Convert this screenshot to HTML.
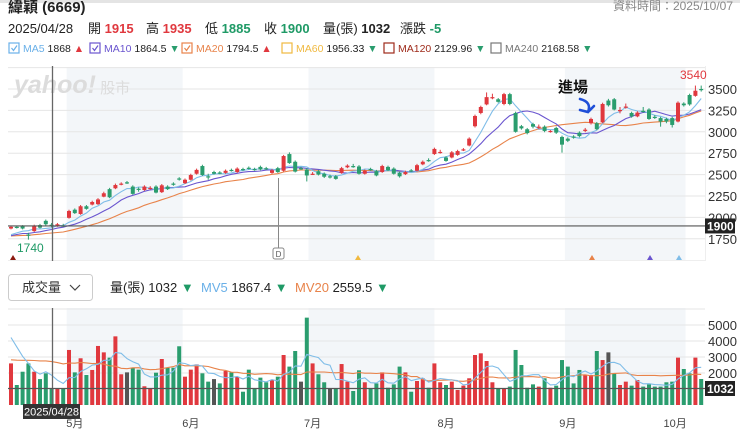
<!DOCTYPE html>
<html><head><meta charset="utf-8">
<style>
html,body{margin:0;padding:0;background:#fff;width:740px;height:441px;overflow:hidden}
svg{display:block;font-family:"Liberation Sans","Noto Sans CJK TC",sans-serif}
</style></head>
<body>
<svg id="c" width="740" height="441" viewBox="0 0 740 441">
  <rect x="0" y="0" width="740" height="3" fill="#e4e4e4"/>
  <text x="8" y="12" font-size="15" font-weight="bold" fill="#222">緯穎 (6669)</text>
  <text x="733" y="10" font-size="12" fill="#888" text-anchor="end">資料時間：2025/10/07</text>
  <g font-size="13">
    <text x="8" y="33" fill="#222">2025/04/28</text>
    <text x="88" y="33" fill="#222">開 <tspan fill="#e0383e" font-weight="bold">1915</tspan></text>
    <text x="146" y="33" fill="#222">高 <tspan fill="#e0383e" font-weight="bold">1935</tspan></text>
    <text x="205" y="33" fill="#222">低 <tspan fill="#1f9a66" font-weight="bold">1885</tspan></text>
    <text x="264" y="33" fill="#222">收 <tspan fill="#1f9a66" font-weight="bold">1900</tspan></text>
    <text x="323" y="33" fill="#222">量(張) <tspan font-weight="bold">1032</tspan></text>
    <text x="400" y="33" fill="#222">漲跌 <tspan fill="#1f9a66" font-weight="bold">-5</tspan></text>
  </g>
  <g id="legend" font-size="10.5"></g>
  <g id="main"></g>
  <g id="volhdr">
    <rect x="8.5" y="274.5" width="84" height="26" rx="3" fill="#fff" stroke="#ccc"/>
    <text x="22" y="292" font-size="13" fill="#333">成交量</text>
    <path d="M70 285 L75 290 L80 285" fill="none" stroke="#444" stroke-width="1.2"/>
    <text x="110" y="292" font-size="13" fill="#222">量(張) 1032 <tspan fill="#1f9a66">▼</tspan></text>
    <text x="201" y="292" font-size="13" fill="#222"><tspan fill="#6ab0e8">MV5</tspan> 1867.4 <tspan fill="#1f9a66">▼</tspan></text>
    <text x="295" y="292" font-size="13" fill="#222"><tspan fill="#e8834a">MV20</tspan> 2559.5 <tspan fill="#1f9a66">▼</tspan></text>
  </g>
  <g id="vol"></g>
</svg>
<script>
const opens=[1870,1890,1895,1800,1840,1910,1960,1915,1900,1905,1995,2090,2040,2130,2150,2155,2242,2330,2340,2385,2410,2360,2335,2320,2335,2360,2295,2360,2395,2455,2400,2440,2510,2600,2480,2530,2525,2520,2555,2530,2565,2580,2565,2590,2575,2520,2575,2545,2740,2650,2575,2560,2505,2540,2510,2480,2480,2520,2585,2600,2595,2510,2565,2540,2530,2590,2570,2520,2505,2550,2545,2620,2670,2740,2755,2700,2700,2730,2785,2840,3065,3220,3320,3395,3380,3325,3440,3220,3065,3030,3090,3050,3060,3000,3045,2940,2920,2945,2990,3010,3100,3100,3110,3365,3380,3245,3285,3220,3180,3245,3260,3175,3160,3150,3160,3120,3330,3430,3420,3500];
const closes=[1890,1885,1870,1790,1900,1880,1920,1900,1920,1900,2075,2050,2130,2100,2180,2210,2282,2235,2378,2395,2400,2275,2330,2360,2345,2290,2375,2330,2385,2445,2440,2495,2555,2495,2475,2510,2520,2545,2550,2570,2560,2575,2560,2560,2570,2550,2530,2717,2635,2535,2570,2490,2510,2500,2475,2475,2450,2575,2605,2595,2510,2545,2560,2490,2600,2550,2510,2480,2530,2545,2610,2650,2665,2800,2765,2660,2760,2775,2795,2920,3185,3290,3405,3405,3350,3440,3325,3000,3040,2985,3060,3060,3010,3010,2990,2850,2895,2940,2950,3025,3150,3030,3325,3310,3260,3255,3295,3180,3225,3240,3150,3170,3120,3120,3080,3340,3310,3320,3480,3495];
const highs=[1905,1905,1910,1820,1915,1925,1975,1935,1935,1925,2090,2105,2145,2145,2195,2225,2300,2345,2395,2410,2425,2375,2350,2375,2365,2375,2390,2375,2410,2470,2455,2510,2570,2615,2510,2545,2540,2560,2570,2585,2580,2595,2580,2605,2590,2565,2590,2730,2760,2665,2590,2575,2530,2555,2525,2500,2495,2590,2620,2625,2610,2560,2580,2555,2615,2605,2585,2535,2545,2565,2625,2665,2690,2815,2790,2715,2775,2790,2810,2935,3200,3305,3460,3445,3395,3455,3455,3235,3080,3045,3105,3085,3075,3020,3060,2955,2935,2960,3005,3045,3165,3115,3340,3385,3395,3290,3330,3235,3240,3290,3275,3195,3175,3165,3175,3355,3345,3445,3540,3540];
const lows=[1860,1870,1860,1740,1830,1870,1905,1885,1890,1890,1985,2040,2030,2090,2140,2145,2235,2225,2330,2375,2390,2265,2300,2310,2325,2280,2285,2320,2370,2430,2390,2430,2500,2485,2440,2500,2505,2510,2535,2520,2545,2560,2545,2550,2555,2510,2520,2535,2625,2525,2555,2420,2495,2490,2460,2455,2440,2510,2575,2580,2500,2500,2545,2480,2520,2540,2500,2465,2495,2530,2535,2610,2650,2730,2745,2650,2690,2720,2775,2830,3050,3205,3310,3380,3340,3310,3310,2990,3025,2970,3040,3030,2995,2990,2975,2756,2880,2920,2935,2995,3085,3020,3100,3295,3250,3215,3270,3165,3170,3225,3140,3150,3060,3100,3050,3110,3295,3305,3410,3470];
const history=[1820,1800,1780,1760,1750,1770,1790,1800,1780,1760,1740,1760,1780,1790,1800,1780,1770,1760,1790];
const volumes=[2600,1250,2080,2600,2080,1620,1980,1032,1040,1040,3440,2040,2920,1875,2190,3690,3290,2960,4290,1920,2040,2330,2210,1170,1040,2020,2875,2330,2330,3670,1770,2210,2540,1980,1460,1620,1350,2125,2040,1770,830,2210,1040,1710,1420,1560,1770,3125,2400,3375,1460,5460,2600,1920,1420,1040,1000,2560,1460,875,2170,1420,1040,1350,2040,1080,1290,2400,2040,830,1500,1670,1080,2600,1420,1250,1460,940,1210,1670,3125,3230,2750,1420,1040,1000,1150,3440,2500,1080,1290,1150,1670,1080,1210,2810,2400,1350,2190,1875,1875,3375,2810,3290,1980,1250,1460,1210,1560,1150,1290,1150,1150,1420,1460,2960,2250,1980,2960,1625];
const volHistory=[1800,2200,2500,2400,2100,2000,1900,2300,2600,2400,2200,2000,2500,3000,3500,4200,5000,4800,4500];
const grayVolIdx=[20,35,50,55,103];
const priceTicks=[3500,3250,3000,2750,2500,2250,2000,1750];
const priceGrid=[3750,3500,3250,3000,2750,2500,2250,2000,1750];
const volTicks=[5000,4000,3000,2000];
const volGrid=[6000,5000,4000,3000,2000];
const monthLabels=['5月','6月','7月','8月','9月','10月'];
const monthIdx=[11,31,52,75,96,114.5];
const shadeRanges=[[9.6,29.6],[51.3,73],[95.5,116.3]];
const maNames=['MA5','MA10','MA20','MA60','MA120','MA240'];
const maVals=['1868','1864.5','1794.5','1956.33','2129.96','2168.58'];
const maUp=[true,false,true,false,false,false];
const maColors=['#6ab0e8','#6a55cf','#e8834a','#f0b940','#9e2a1a','#777'];
const maChecked=[true,true,true,false,false,false];

const NS='http://www.w3.org/2000/svg';
function el(tag,attrs,parent){const e=document.createElementNS(NS,tag);for(const k in attrs)e.setAttribute(k,attrs[k]);parent.appendChild(e);return e;}
const X0=11,STEP=5.8,L=8,R=705;
const xs=i=>X0+i*STEP;
const py=p=>89+(3500-p)*0.0856;
const vy=v=>405-v*0.016;
const RED='#e0383e',GREEN='#2a9d6e',GRAY='#555';

const lg=document.getElementById('legend');
const legX=[9,90,182,282,384,491];
maNames.forEach((n,k)=>{
  const lx=legX[k];
  const g=el('g',{},lg);
  
  
  el('rect',{x:lx,y:43,width:10,height:10,fill:'#fff',stroke:maColors[k],'stroke-width':1.2},g);
  if(maChecked[k]) el('path',{d:`M${lx+2.5} ${48} l2 2.5 l3.5 -5`,fill:'none',stroke:maColors[k],'stroke-width':1.2},g);
  const t=el('text',{x:lx+14,y:52,fill:'#222'},g);
  t.innerHTML=`<tspan fill="${maColors[k]}">${n}</tspan> ${maVals[k]} <tspan fill="${maUp[k]?RED:GREEN}">${maUp[k]?'▲':'▼'}</tspan>`;
});

const m=document.getElementById('main');
el('rect',{x:L,y:66,width:R-L,height:195,fill:'#fff'},m);
shadeRanges.forEach(r=>{const s=el('rect',{x:xs(r[0]),y:67,width:(r[1]-r[0])*STEP,height:193,fill:'#f3f6f9'},m);
  
  });
el('rect',{x:xs(116.3),y:67,width:R-xs(116.3),height:193,fill:'#fff'},m);
priceGrid.forEach(p=>{const l=el('line',{x1:L,x2:R,y1:py(p),y2:py(p),stroke:'#e6e6e6'},m);
  
  });
el('line',{x1:L,x2:R,y1:260.5,y2:260.5,stroke:'#eee'},m);
el('line',{x1:R+.5,x2:R+.5,y1:66,y2:261,stroke:'#eee'},m);
priceTicks.forEach(p=>{const t=el('text',{x:708,y:py(p)+5,'font-size':13,fill:'#333'},m);t.textContent=p;
  
  });
const wm=el('text',{x:14,y:93,'font-size':25,'font-weight':'bold',fill:'#dcdcdc','font-style':'italic'},m);
wm.innerHTML='yahoo!<tspan font-size="15" font-weight="normal" font-style="normal"> 股市</tspan>';



function ma(arr,hist,n){const full=hist.concat(arr);const out=[];for(let i=0;i<arr.length;i++){let s=0;const j=i+hist.length;for(let k=0;k<n;k++)s+=full[j-k];out.push(s/n);}return out;}
function drawLine(vals,yf,color,parent,name){const d=vals.map((v,i)=>(i?'L':'M')+xs(i).toFixed(1)+' '+yf(v).toFixed(1)).join(' ');
  const p=el('path',{d:d,fill:'none',stroke:color,'stroke-width':1.1},parent);
  
  }
drawLine(ma(closes,history,20),py,'#e8834a',m,'ma20-line');
drawLine(ma(closes,history,10),py,'#6a55cf',m,'ma10-line');
drawLine(ma(closes,history,5),py,'#7fbde8',m,'ma5-line');

closes.forEach((c,i)=>{
  const o=opens[i];const col=c>o?RED:(c<o?GREEN:GRAY);
  const g=el('g',{},m);
  
  
  el('line',{x1:xs(i),x2:xs(i),y1:py(highs[i]),y2:py(lows[i]),stroke:col,'stroke-width':1},g);
  const top=py(Math.max(o,c)),h=Math.max(1.2,Math.abs(py(o)-py(c)));
  el('rect',{x:xs(i)-2,y:top,width:4,height:h,fill:col},g);
});

el('line',{x1:52.5,x2:52.5,y1:66,y2:261,stroke:'#666','stroke-width':1.3},m);
el('line',{x1:L,x2:R,y1:py(1900),y2:py(1900),stroke:'#555','stroke-width':1.2},m);
el('rect',{x:705,y:py(1900)-7.5,width:30,height:15,fill:'#222'},m);
const cl=el('text',{x:707,y:py(1900)+4.5,'font-size':12,fill:'#fff','font-weight':'bold'},m);cl.textContent='1900';


el('line',{x1:278.5,x2:278.5,y1:178,y2:248,stroke:'#888','stroke-width':1},m);
el('rect',{x:273,y:248,width:11,height:11,rx:2,fill:'#fff',stroke:'#888'},m);
const dt=el('text',{x:278.5,y:257,'font-size':8,'text-anchor':'middle',fill:'#555'},m);dt.textContent='D';


const lo=el('text',{x:17,y:252,'font-size':12,fill:'#1f9a66'},m);lo.textContent='1740';


const hi=el('text',{x:680,y:79,'font-size':12,fill:'#e0383e'},m);hi.textContent='3540';


const en=el('text',{x:558,y:92,'font-size':15,'font-weight':'bold',fill:'#111'},m);en.textContent='進場';


const ar=el('path',{d:'M580 99 Q592 102 588 112 M580 110 L588 112 L594 106',fill:'none',stroke:'#1f4fd8','stroke-width':2.6,'stroke-linecap':'round'},m);


[[13,'#8b1a10'],[358,'#f0b940'],[592,'#e8834a'],[650,'#6a55cf'],[679,'#7fbde8']].forEach(t=>{
  const p=el('path',{d:`M${t[0]-3} 260 L${t[0]} 255 L${t[0]+3} 260 Z`,fill:t[1]},m);
  
  });

const v=document.getElementById('vol');
el('rect',{x:L,y:308,width:R-L,height:98,fill:'#fff'},v);
shadeRanges.forEach(r=>{const s=el('rect',{x:xs(r[0]),y:308,width:(r[1]-r[0])*STEP,height:97,fill:'#f3f6f9'},v);
  
  });
volGrid.forEach(g=>{const l=el('line',{x1:L,x2:R,y1:vy(g),y2:vy(g),stroke:'#e6e6e6'},v);
  
  });
volTicks.forEach(t=>{const tx=el('text',{x:708,y:vy(t)+5,'font-size':13,fill:'#333'},v);tx.textContent=t;
  
  });
volumes.forEach((val,i)=>{
  const col=grayVolIdx.includes(i)?GRAY:(closes[i]>=opens[i]?RED:GREEN);
  const b=el('rect',{x:xs(i)-2,y:vy(val),width:4,height:405-vy(val),fill:col},v);
  
  
});
drawLine(ma(volumes,volHistory,20),vy,'#e8834a',v,'mv20-line');
drawLine(ma(volumes,volHistory,5),vy,'#7fbde8',v,'mv5-line');
el('line',{x1:52.5,x2:52.5,y1:308,y2:405,stroke:'#666','stroke-width':1.3},v);
el('line',{x1:L,x2:R,y1:vy(1032),y2:vy(1032),stroke:'#555','stroke-width':1.2},v);
el('rect',{x:705,y:vy(1032)-7.5,width:30,height:15,fill:'#222'},v);
const vl=el('text',{x:707,y:vy(1032)+4.5,'font-size':12,fill:'#fff','font-weight':'bold'},v);vl.textContent='1032';


el('rect',{x:23,y:404,width:57,height:15,fill:'#333'},v);
const dl=el('text',{x:51.5,y:415.5,'font-size':11,'text-anchor':'middle',fill:'#fff'},v);dl.textContent='2025/04/28';


monthLabels.forEach((t,k)=>{const tx=el('text',{x:xs(monthIdx[k]),y:427,'font-size':11,'text-anchor':'middle',fill:'#444'},v);tx.textContent=t;
  
  });
</script>
</body></html>
